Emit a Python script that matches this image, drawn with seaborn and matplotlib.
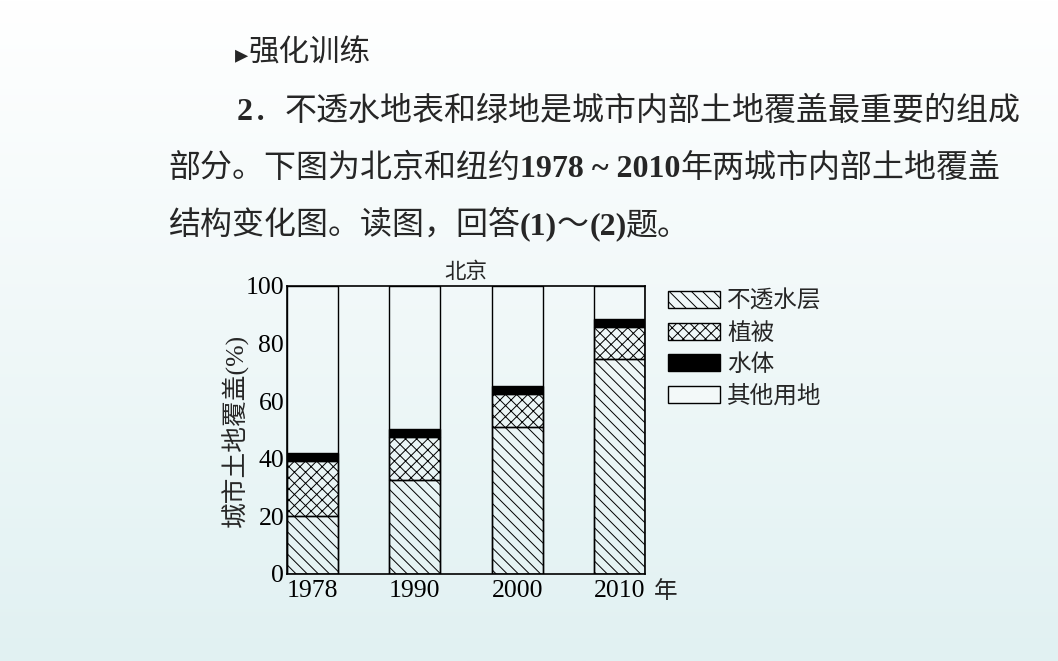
import numpy as np
import pandas as pd
import seaborn as sb
import matplotlib.pyplot as plt
from matplotlib.patches import Patch
from matplotlib.colors import LinearSegmentedColormap

# data (percent of urban land cover, Beijing)
years = ["1978", "1990", "2000", "2010"]
impervious = [20.0, 32.8, 51.2, 74.5]
vegetation = [19.3, 14.6, 11.4, 11.3]
water = [2.8, 2.8, 2.7, 2.6]
total = [100, 100, 100, 100]
legend_labels = ["不透水层", "植被", "水体", "其他用地"]

sb.set_style("white")
plt.rcParams['font.family'] = ['Liberation Serif', 'Noto Sans CJK SC', 'DejaVu Sans']
plt.rcParams['hatch.linewidth'] = 0.7
cjk = ['Noto Sans CJK SC', 'DejaVu Sans']

df = pd.DataFrame({"year": years, "imp": impervious, "veg": vegetation,
                   "water": water, "total": total})
bot_veg = df["imp"].values
bot_water = (df["imp"] + df["veg"]).values

fig = plt.figure(figsize=(10.58, 6.61), dpi=100)

# page background: light vertical gradient
bg = fig.add_axes([0, 0, 1, 1])
grad = np.linspace(0, 1, 256)[:, None]
cm = LinearSegmentedColormap.from_list("pg", ["#ffffff", "#e1f1f2"])
bg.imshow(grad, aspect="auto", cmap=cm, extent=[0, 1, 0, 1], origin="upper")
bg.set_axis_off()
bg.set_zorder(-5)

ax = fig.add_axes([287 / 1058, 1 - 574 / 661, 358 / 1058, 288 / 661])
ax.set_facecolor("none")

w = 0.5
hatch_imp = "\\" * 3
hatch_veg = "xxx"
common = dict(ax=ax, width=w, saturation=1, edgecolor="black", linewidth=1.0)
sb.barplot(data=df, x="year", y="imp", color="white", facecolor="none",
           hatch=hatch_imp, **common)
sb.barplot(data=df, x="year", y="veg", bottom=bot_veg, color="white",
           facecolor="none", hatch=hatch_veg, **common)
sb.barplot(data=df, x="year", y="water", bottom=bot_water, color="black", **common)
sb.barplot(data=df, x="year", y="total", color="white", facecolor="none", **common)

ax.set_xlim(-w / 2, len(years) - 1 + w / 2)
ax.set_ylim(0, 100)
ax.set_yticks([0, 20, 40, 60, 80, 100])
ax.tick_params(axis="both", length=0, labelsize=18.5, colors="black")
ax.tick_params(axis="y", pad=2)
ax.tick_params(axis="x", pad=4)
for s in ax.spines.values():
    s.set_visible(True)
    s.set_color("black")
    s.set_linewidth(1.2)
ax.set_xlabel("")
ax.set_ylabel("城市土地覆盖(%)", fontsize=18.5)
ax.yaxis.set_label_coords(-0.106, 0.5)
ax.set_title("北京", fontsize=15.5, pad=6, family=cjk, weight="medium")
fig.text(654 / 1058, 1 - 591 / 661, "年", fontsize=17, va="center", family=cjk)

handles = [Patch(facecolor="none", edgecolor="black", hatch=hatch_imp),
           Patch(facecolor="none", edgecolor="black", hatch=hatch_veg),
           Patch(facecolor="black", edgecolor="black"),
           Patch(facecolor="#f3f9f9", edgecolor="black")]
ax.legend(handles, legend_labels, loc="upper left",
          bbox_to_anchor=(668 / 1058, 1 - 290 / 661), bbox_transform=fig.transFigure,
          frameon=False, prop={"family": cjk, "size": 17},
          handlelength=2.2, handleheight=0.72, labelspacing=0.36, handletextpad=0.3,
          borderaxespad=0, borderpad=0)

# text block above the chart, drawn in runs so numbers can use the serif font
renderer = fig.canvas.get_renderer()


def put_runs(x_px, base_px, runs):
    x = x_px / 1058
    y = 1 - base_px / 661
    for s, kw in runs:
        t = fig.text(x, y, s, va="baseline", ha="left", **kw)
        bb = t.get_window_extent(renderer)
        x = fig.transFigure.inverted().transform((bb.x1, bb.y0))[0]


body = dict(fontsize=23, family=cjk)
num = dict(fontsize=23, family=['Liberation Serif'] + cjk, weight="bold")
put_runs(235, 62, [("▸", dict(fontsize=19, family=['DejaVu Sans'])),
                   ("强化训练", dict(fontsize=22, family=cjk, weight="medium"))])
put_runs(237, 120, [("2", num), ("．", body),
                    ("不透水地表和绿地是城市内部土地覆盖最重要的组成", body)])
put_runs(168, 177, [("部分。下图为北京和纽约", body), ("1978 ~ 2010", num),
                    ("年两城市内部土地覆盖", body)])
put_runs(168, 234, [("结构变化图。读图，回答", body), ("(1)", num), ("～", body),
                    ("(2)", num), ("题。", body)])

fig.savefig("out.png", dpi=100)
